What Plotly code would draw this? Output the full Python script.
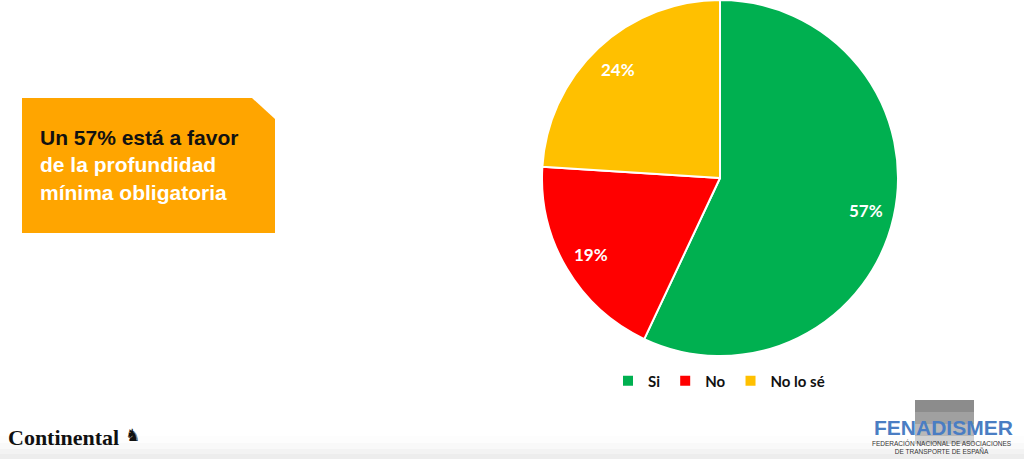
import math
import plotly.graph_objects as go

categories = ["Si", "No", "No lo sé"]
values = [57, 19, 24]
colors = ["#00B050", "#FF0000", "#FFC000"]

W, H = 1024, 459

def px(x):
    return x / W

def py(y):
    return 1 - y / H

# pie domain in pixels
PX0, PX1, PY0, PY1 = 542, 898, 0, 356

fig = go.Figure()
fig.add_trace(go.Pie(
    labels=categories,
    values=values,
    sort=False,
    direction="clockwise",
    rotation=0,
    marker=dict(colors=colors, line=dict(color="white", width=2)),
    textinfo="none",
    domain=dict(x=[px(PX0), px(PX1)], y=[py(PY1), py(PY0)]),
    hoverinfo="label+percent",
))

# percentage labels placed at each slice's mid angle (derived from values)
cx, cy = (PX0 + PX1) / 2, (PY0 + PY1) / 2
R = min(PX1 - PX0, PY1 - PY0) / 2
total = sum(values)
annotations = []
cum = 0
for v in values:
    mid = (cum + v / 2) / total * 2 * math.pi
    cum += v
    r = 0.84 * R
    lx = cx + r * math.sin(mid)
    ly = cy - r * math.cos(mid)
    annotations.append(dict(text=f"<b>{v}%</b>", x=px(lx), y=py(ly), xref="paper", yref="paper",
                            xanchor="center", yanchor="middle", showarrow=False,
                            font=dict(family="Lato", size=17, color="white")))

shapes = []
# bottom light gradient band
for y0, op in [(436, 0.025), (443, 0.04), (449, 0.06), (454, 0.08)]:
    shapes.append(dict(type="rect", xref="paper", yref="paper", x0=0, x1=1,
                       y0=0, y1=py(y0), fillcolor="#a0a0a0", opacity=op, line=dict(width=0), layer="below"))
# orange callout box with cut corner
path = (f"M {px(22)},{py(98)} L {px(252)},{py(98)} L {px(275)},{py(119)} "
        f"L {px(275)},{py(233)} L {px(22)},{py(233)} Z")
shapes.append(dict(type="path", xref="paper", yref="paper", path=path,
                   fillcolor="#FFA500", line=dict(width=0), layer="below"))
# grey gradient band behind FENADISMER
for y0, y1, col in [(400, 412, "#8c8c8c"), (412, 424, "#a0a0a0"), (424, 436, "#b8b8b8"), (436, 444, "#d2d2d2")]:
    shapes.append(dict(type="rect", xref="paper", yref="paper", x0=px(915), x1=px(974),
                       y0=py(y1), y1=py(y0), fillcolor=col, line=dict(width=0), layer="below"))

annotations += [
    dict(text="<b>Un 57% está a favor</b><br><b><span style='color:white'>de la profundidad</span></b><br>"
              "<b><span style='color:white'>mínima obligatoria</span></b>",
         x=px(38), y=py(124), xref="paper", yref="paper", xanchor="left", yanchor="top",
         align="left", showarrow=False,
         font=dict(family="Liberation Sans", size=21, color="#111111")),
    dict(text="<b>Continental</b>", x=px(6), y=py(437), xref="paper", yref="paper",
         xanchor="left", yanchor="middle", showarrow=False,
         font=dict(family="Liberation Serif", size=22, color="#111111")),
    dict(text="♞", x=px(132), y=py(435), xref="paper", yref="paper",
         xanchor="center", yanchor="middle", showarrow=False,
         font=dict(family="DejaVu Sans", size=17, color="#111111")),
    dict(text="<b>FENADISMER</b>", x=px(943), y=py(427), xref="paper", yref="paper",
         xanchor="center", yanchor="middle", showarrow=False,
         font=dict(family="Liberation Sans", size=21, color="#4A7DC3")),
    dict(text="FEDERACIÓN NACIONAL DE ASOCIACIONES<br>DE TRANSPORTE DE ESPAÑA",
         x=px(942), y=py(447), xref="paper", yref="paper",
         xanchor="center", yanchor="middle", showarrow=False,
         font=dict(family="Liberation Sans", size=6.5, color="#333333")),
]

fig.update_layout(
    width=W, height=H,
    margin=dict(l=0, r=0, t=0, b=0),
    paper_bgcolor="white",
    plot_bgcolor="white",
    shapes=shapes,
    annotations=annotations,
    showlegend=True,
    legend=dict(orientation="h", x=px(719), xanchor="center", y=py(381), yanchor="middle",
                font=dict(family="Lato", size=15, color="#111111", weight="bold"),
                itemwidth=30, tracegroupgap=0, bgcolor="rgba(0,0,0,0)"),
)

fig.write_html("out.html", config={"displayModeBar": False},
               post_script="document.body.style.margin='0px';document.body.style.overflow='hidden';")
